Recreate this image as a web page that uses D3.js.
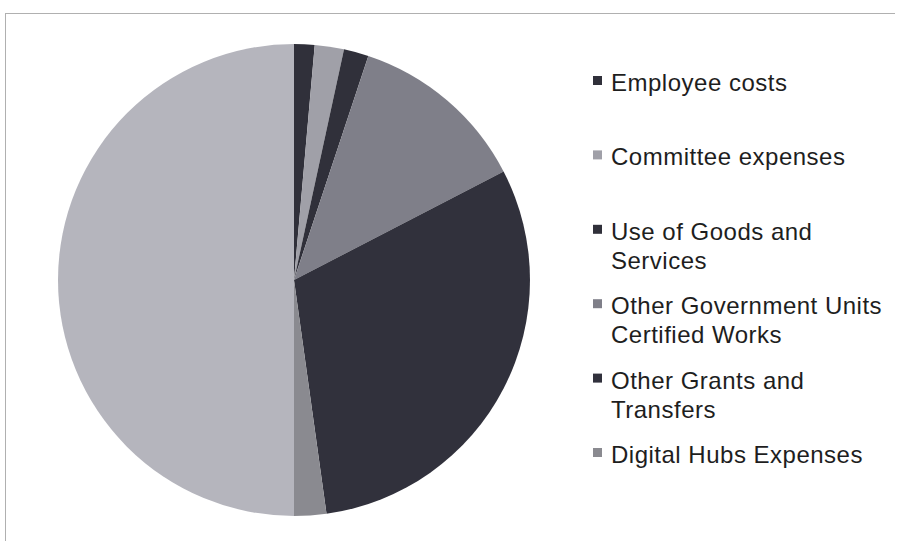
<!DOCTYPE html>
<html>
<head>
<meta charset="utf-8">
<script src="https://cdn.jsdelivr.net/npm/d3@7"></script>
<style>
  html, body { margin: 0; padding: 0; background: #ffffff; }
  svg { display: block; }
</style>
</head>
<body>
<svg id="chart" width="897" height="541"></svg>
<script>
// Expenditure categories (clockwise from 12 o'clock)
const categories = [
  "Employee costs",
  "Committee expenses",
  "Use of Goods and Services",
  "Other Government Units Certified Works",
  "Other Grants and Transfers",
  "Digital Hubs Expenses",
  "Total"
];
// Share of spending, percent
const values = [1.4, 2.0, 1.7, 12.3, 30.4, 2.2, 50.0];
// Slice fills
const colors = ["#30303a", "#a0a0a8", "#30303a", "#7f7f89", "#31313c", "#8a8a90", "#b5b5bd"];
// Legend lines (wrapped as in the legend box); only the first six entries appear
const legendLines = [
  ["Employee costs"],
  ["Committee expenses"],
  ["Use of Goods and", "Services"],
  ["Other Government Units", "Certified Works"],
  ["Other Grants and", "Transfers"],
  ["Digital Hubs Expenses"]
];

const svg = d3.select("#chart");
const W = 897, H = 541;

// Plot frame (top and left edges)
svg.append("line").attr("x1", 5).attr("y1", 13.5).attr("x2", 895).attr("y2", 13.5)
  .attr("stroke", "#b0b0b0").attr("stroke-width", 1);
svg.append("line").attr("x1", 5.5).attr("y1", 13).attr("x2", 5.5).attr("y2", H)
  .attr("stroke", "#b0b0b0").attr("stroke-width", 1);

const data = categories.map((c, i) => ({ name: c, value: values[i], color: colors[i] }));

const pie = d3.pie().sort(null).value(d => d.value).startAngle(0).endAngle(2 * Math.PI);
const radius = 236;
const arc = d3.arc().innerRadius(0).outerRadius(radius);

const g = svg.append("g").attr("transform", "translate(294,280)");
g.selectAll("path")
  .data(pie(data))
  .join("path")
  .attr("d", arc)
  .attr("fill", d => d.data.color);

// Legend
const color = d3.scaleOrdinal().domain(categories).range(colors);
const legend = svg.append("g").attr("font-family", "'Liberation Sans', Arial, sans-serif")
  .attr("font-size", 24).attr("letter-spacing", "0.5px").attr("fill", "#1e1e1e");
const baselines = d3.scalePoint().domain(d3.range(legendLines.length)).range([91, 463]);

legendLines.forEach((lines, i) => {
  const y = baselines(i);
  legend.append("rect")
    .attr("x", 593).attr("y", y - 15).attr("width", 9).attr("height", 9)
    .attr("fill", color(categories[i]));
  const t = legend.append("text").attr("x", 611).attr("y", y);
  lines.forEach((ln, k) => {
    t.append("tspan").attr("x", 611).attr("y", y + k * 29).text(ln);
  });
});
</script>
</body>
</html>
